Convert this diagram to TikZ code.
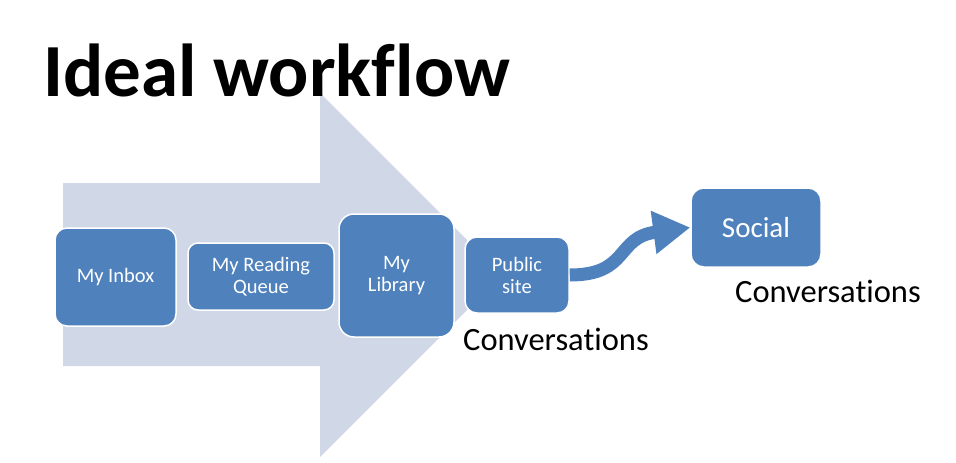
\documentclass[tikz,border=0pt]{standalone}
\usepackage{fontspec}
\setmainfont[Ligatures=NoCommon]{Carlito}
\usetikzlibrary{arrows.meta}
\definecolor{boxblue}{HTML}{4F81BD}
\definecolor{arrowbg}{HTML}{D0D8E8}
\begin{document}
\begin{tikzpicture}[x=1pt,y=-1pt,
  box/.style={draw=white, line width=1.5pt, fill=boxblue, rounded corners=12pt,
    text=white, align=center, inner sep=0pt,
    font=\fontsize{20.5}{22}\selectfont},
  label/.style={anchor=base west, inner sep=0pt, font=\fontsize{32.5}{36}\selectfont},
  flow/.style={line width=13pt, boxblue, -{Triangle[length=37pt,width=41pt]}}]
\useasboundingbox (0,0) rectangle (956,463);
\fill[arrowbg] (63,183) -- (320,183) -- (320,93) -- (502,275) -- (320,457) -- (320,366) -- (63,366) -- cycle;
\node[anchor=base west, inner sep=0pt, font=\fontsize{75}{80}\selectfont\bfseries] (title) at (43,96) {Ideal workflow};
\node[box, minimum width=121pt, minimum height=98pt] (inbox) at (115.5,277) {My Inbox};
\node[box, minimum width=146pt, minimum height=67pt, rounded corners=10pt] (queue) at (261,276.5) {My Reading\\Queue};
\node[box, minimum width=115pt, minimum height=123pt, rounded corners=15pt] (library) at (396.5,275.5) {My\\Library};
\node[box, minimum width=104pt, minimum height=76pt] (public) at (517,275) {Public\\site};
\node[box, minimum width=130pt, minimum height=79pt, rounded corners=13pt, font=\fontsize{29}{32}\selectfont] (social) at (756,227.5) {Social};
\node[label] (conv1) at (463,350) {Conversations};
\node[label] (conv2) at (735,302) {Conversations};
\draw[flow] (public.east) .. controls +(60,0) and +(-75,10) .. (social.west);
\end{tikzpicture}
\end{document}
